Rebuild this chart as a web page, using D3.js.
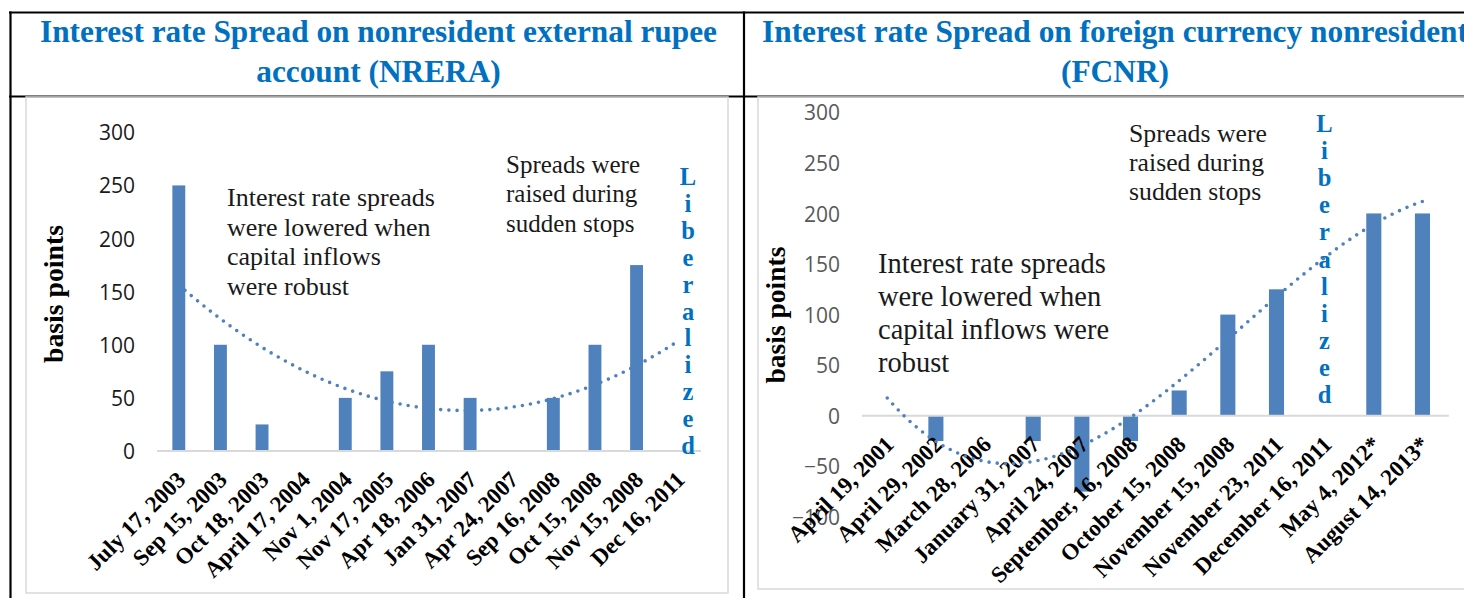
<!DOCTYPE html>
<html><head><meta charset="utf-8">
<script src="https://cdn.jsdelivr.net/npm/d3@7"></script>
<style>
html,body{margin:0;padding:0;background:#fff;}
svg{display:block;}
</style></head>
<body><svg id="chart" width="1464" height="598"></svg>
<script>
// NRERA: spread changes (basis points) by announcement date
const nreraDates = ["July 17, 2003","Sep 15, 2003","Oct 18, 2003","April 17, 2004","Nov 1, 2004","Nov 17, 2005","Apr 18, 2006","Jan 31, 2007","Apr 24, 2007","Sep 16, 2008","Oct 15, 2008","Nov 15, 2008","Dec 16, 2011"];
const nreraSpread = [250,100,25,0,50,75,100,50,0,50,100,175,0];
const nreraTicks = [0,50,100,150,200,250,300];

// FCNR: spread changes (basis points); Dec 16, 2011 has no value (liberalized)
const fcnrDates = ["April 19, 2001","April 29, 2002","March 28, 2006","January 31, 2007","April 24, 2007","September, 16, 2008","October 15, 2008","November 15, 2008","November 23, 2011","December 16, 2011","May 4, 2012*","August 14, 2013*"];
const fcnrSpread = [0,-25,0,-25,-75,-25,25,100,125,null,200,200];
const fcnrTicks = [-100,-50,0,50,100,150,200,250,300];

const titles = {
  nrera: ["Interest rate Spread on nonresident external rupee", "account (NRERA)"],
  fcnr: ["Interest rate Spread on foreign currency nonresident", "(FCNR)"]
};
const notesLow = ["Interest rate spreads","were lowered when","capital inflows","were robust"];
const notesLowFcnr = ["Interest rate spreads","were lowered when","capital inflows were","robust"];
const notesHigh = ["Spreads were","raised during","sudden stops"];
const liberalized = "Liberalized";

// least-squares polynomial trend (same as a spreadsheet polynomial trendline)
function polyFit(xs, ys, order){
  const m = d3.mean(xs);
  const n = order+1;
  const A = Array.from({length:n},()=>new Array(n+1).fill(0));
  xs.forEach((x0,k)=>{
    const x = x0-m;
    for(let r=0;r<n;r++){
      for(let c=0;c<n;c++) A[r][c]+=Math.pow(x,r+c);
      A[r][n]+=ys[k]*Math.pow(x,r);
    }
  });
  for(let i=0;i<n;i++){
    let p=i; for(let r=i+1;r<n;r++) if(Math.abs(A[r][i])>Math.abs(A[p][i])) p=r;
    [A[i],A[p]]=[A[p],A[i]];
    for(let r=0;r<n;r++){ if(r===i) continue; const f=A[r][i]/A[i][i]; for(let c=i;c<=n;c++) A[r][c]-=f*A[i][c]; }
  }
  const coef = A.map((row,i)=>row[n]/row[i]);
  return x => coef.reduce((s,c,i)=>s+c*Math.pow(x-m,i),0);
}

const svg = d3.select("#chart");
const BLUE = "#4F81BD";
const TITLE_BLUE = "#0070C0";
const SERIF = "'Liberation Serif','Times New Roman',serif";
const SANS = "'Open Sans','Noto Sans',sans-serif";

function fitFont(sel, target){
  const w = sel.node().getComputedTextLength();
  const fs = parseFloat(sel.attr("font-size"));
  return fs*target/w;
}

// table frame
const frame = svg.append("g").attr("stroke","#000").attr("stroke-width",2.2);
frame.append("line").attr("x1",9).attr("x2",1464).attr("y1",12.5).attr("y2",12.5);
frame.append("line").attr("x1",9).attr("x2",1464).attr("y1",96.5).attr("y2",96.5);
frame.append("line").attr("x1",10.5).attr("x2",10.5).attr("y1",11.5).attr("y2",598);
frame.append("line").attr("x1",744).attr("x2",744).attr("y1",11.5).attr("y2",598);

const TITLE_FS = 31;
function drawTitle(lines, cx, width1){
  svg.append("text").attr("x",cx).attr("y",42).attr("text-anchor","middle")
    .attr("font-family",SERIF).attr("font-weight","bold").attr("font-size",TITLE_FS).attr("fill",TITLE_BLUE)
    .attr("textLength",width1).attr("lengthAdjust","spacingAndGlyphs").text(lines[0]);
  const t2 = svg.append("text").attr("x",cx).attr("y",82).attr("text-anchor","middle")
    .attr("font-family",SERIF).attr("font-weight","bold").attr("font-size",TITLE_FS).attr("fill",TITLE_BLUE)
    .text(lines[1]);
  // second line uses the same horizontal compression as the first
  const natural = svg.append("text").attr("font-family",SERIF).attr("font-weight","bold").attr("font-size",TITLE_FS).text(lines[0]);
  const ratio = width1/natural.node().getComputedTextLength();
  natural.remove();
  const w2 = t2.node().getComputedTextLength()*ratio;
  t2.attr("textLength",w2).attr("lengthAdjust","spacingAndGlyphs");
}
drawTitle(titles.nrera, 378.5, 677);
drawTitle(titles.fcnr, 1115, 706);

function drawPanel(cfg){
  const g = svg.append("g");
  // chart area border
  g.append("rect").attr("x",cfg.box[0]).attr("y",cfg.box[1]).attr("width",cfg.box[2]).attr("height",cfg.box[3])
    .attr("fill","none").attr("stroke","#d9d9d9").attr("stroke-width",1.5);

  const x = d3.scaleBand().domain(cfg.dates).range(cfg.xRange).paddingInner(0.69).paddingOuter(0.345);
  const y = d3.scaleLinear().domain(cfg.yDomain).range(cfg.yRange);

  // y tick labels
  const yAxis = d3.axisLeft(y).tickValues(cfg.ticks).tickSize(0).tickPadding(0);
  const ya = g.append("g").attr("transform",`translate(${cfg.tickX},0)`).call(yAxis);
  ya.select(".domain").remove();
  ya.selectAll("text").attr("font-family",SANS).attr("font-size",21).attr("fill",cfg.tickColor).attr("dy","0.36em");

  // bars
  const rows = cfg.dates.map((d,i)=>({d, v: cfg.values[i], i: i+1}));
  g.append("g").selectAll("rect").data(rows.filter(r=>r.v!==null && r.v!==0)).join("rect")
    .attr("x",r=>x(r.d)).attr("width",x.bandwidth())
    .attr("y",r=>y(Math.max(0,r.v))).attr("height",r=>Math.abs(y(r.v)-y(0)))
    .attr("fill",BLUE);

  // zero axis line
  g.append("line").attr("x1",cfg.xRange[0]-1).attr("x2",cfg.xRange[1]+2).attr("y1",y(0)).attr("y2",y(0))
    .attr("stroke","#d9d9d9").attr("stroke-width",2);

  // x category labels
  const xa = g.append("g").attr("transform",`translate(0,${y(0)})`).call(d3.axisBottom(x).tickSize(0).tickPadding(0));
  xa.select(".domain").remove();
  xa.selectAll(".tick text")
    .attr("font-family",SERIF).attr("font-weight","bold").attr("font-size",23).attr("fill","#000")
    .attr("text-anchor","end").attr("y",0).attr("dy",0)
    .attr("transform","translate(8,30) rotate(-45)");

  // polynomial trendline
  const pts = rows.filter(r=>r.v!==null);
  const f = polyFit(pts.map(r=>r.i), pts.map(r=>r.v), cfg.order);
  const xi = d3.scaleLinear().domain([1,cfg.dates.length]).range([x(cfg.dates[0])+x.bandwidth()/2, x(cfg.dates[cfg.dates.length-1])+x.bandwidth()/2]);
  const lo = d3.min(pts,r=>r.i), hi = d3.max(pts,r=>r.i);
  const samples = d3.range(lo, hi+0.0001, 0.02);
  g.append("path").datum(samples)
    .attr("d", d3.line().x(t=>xi(t)).y(t=>y(f(t))))
    .attr("fill","none").attr("stroke",BLUE).attr("stroke-width",3.6)
    .attr("stroke-linecap","round").attr("stroke-dasharray","0 8.2");

  // y axis title
  const yt = g.append("text").attr("transform",`translate(${cfg.yTitle[0]},${cfg.yTitle[1]}) rotate(-90)`)
    .attr("text-anchor","middle").attr("font-family",SERIF).attr("font-weight","bold").attr("font-size",24)
    .attr("fill","#000").text("basis points");
  yt.attr("font-size", fitFont(yt, cfg.yTitle[2]));

  // annotations
  function note(lines, x0, y0, step, width){
    const t = g.append("text").attr("font-family",SERIF).attr("font-size",24).attr("fill","#1a1a1a");
    t.append("tspan").attr("x",x0).attr("y",y0).text(lines[0]);
    t.attr("font-size",fitFont(t, width));
    lines.slice(1).forEach((l,k)=>t.append("tspan").attr("x",x0).attr("y",y0+(k+1)*step).text(l));
  }
  note(cfg.low, cfg.lowPos[0], cfg.lowPos[1], cfg.lowPos[2], cfg.lowPos[3]);
  note(notesHigh, cfg.highPos[0], cfg.highPos[1], cfg.highPos[2], cfg.highPos[3]);

  // vertical "Liberalized" marker
  const lib = g.append("text").attr("font-family",SERIF).attr("font-weight","bold").attr("font-size",24.5)
    .attr("fill",TITLE_BLUE).attr("text-anchor","middle");
  liberalized.split("").forEach((ch,k)=>lib.append("tspan").attr("x",cfg.libPos[0]).attr("y",cfg.libPos[1]+k*cfg.libPos[2]).text(ch));
}

drawPanel({
  dates: nreraDates, values: nreraSpread, ticks: nreraTicks, order: 2,
  box: [26, 97, 702, 496],
  xRange: [158, 699], yDomain: [0,300], yRange: [451, 132.3],
  tickX: 135, tickColor: "#1a1a1a",
  yTitle: [63, 294, 138],
  low: notesLow, lowPos: [227, 206, 29.7, 208],
  highPos: [506, 172.7, 29.5, 134],
  libPos: [688, 185, 26.9]
});

drawPanel({
  dates: fcnrDates, values: fcnrSpread, ticks: fcnrTicks, order: 3,
  box: [758, 97, 800, 492],
  xRange: [862.9, 1446.8], yDomain: [-100,300], yRange: [516.9, 112.3],
  tickX: 840, tickColor: "#595959",
  yTitle: [785, 315, 137],
  low: notesLowFcnr, lowPos: [878, 272.7, 33.1, 228],
  highPos: [1129, 141.5, 29.3, 138],
  libPos: [1324.5, 132, 27.1]
});
</script>
</body></html>
